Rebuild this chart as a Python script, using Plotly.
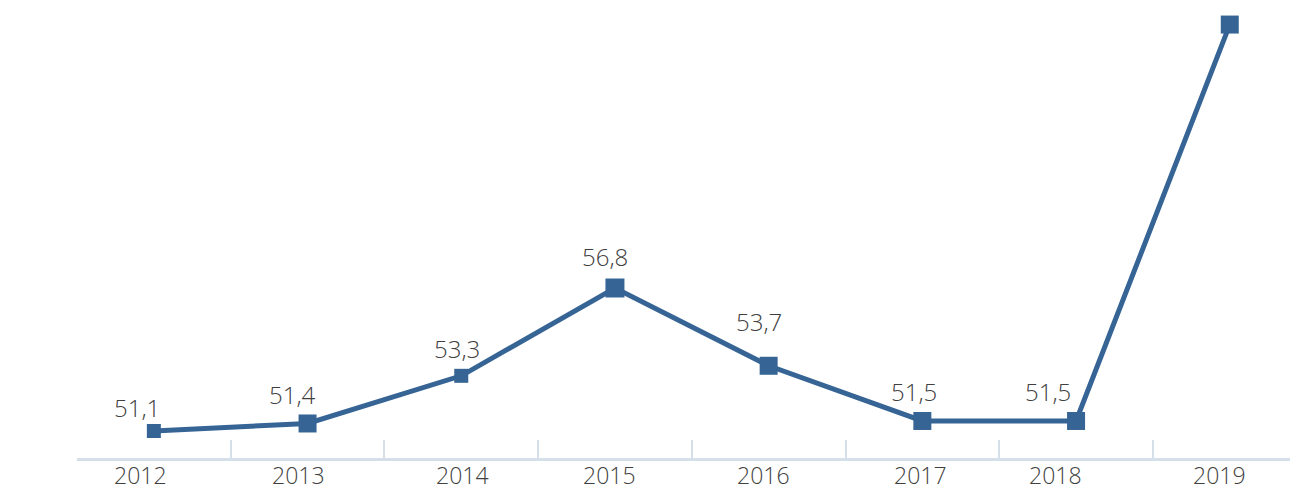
import plotly.graph_objects as go

years = ["2012", "2013", "2014", "2015", "2016", "2017", "2018", "2019"]
values = [51.1, 51.4, 53.3, 56.8, 53.7, 51.5, 51.5, 67.3]
labels = ["51,1", "51,4", "53,3", "56,8", "53,7", "51,5", "51,5", ""]

# styling (not data)
marker_sizes = [14, 18, 14, 19, 18, 18, 18, 18]
label_dx = [-17, -15, -4, -10, -10, -8, -28, 0]
label_dy = [24, 29, 27, 32, 44, 29, 29, 0]
tick_dx = [-13, -9, 1, -5, -5, -2, -21, -10]

LINE = "#366495"
AXIS = "#d5dfea"
TXT = "#404040"
FONT = "Open Sans"
WEIGHT = 300

fig = go.Figure()
fig.add_trace(go.Scatter(
    x=years, y=values, mode="lines+markers",
    line=dict(color=LINE, width=5),
    marker=dict(symbol="square", size=marker_sizes, color=LINE,
                opacity=1, line=dict(width=0)),
    cliponaxis=False, hoverinfo="skip", showlegend=False,
))

annotations = []
for i, (v, lab, dx, dy) in enumerate(zip(values, labels, label_dx, label_dy)):
    if not lab:
        continue
    annotations.append(dict(x=i, y=v, xref="x", yref="y", text=lab,
                            showarrow=False, xshift=dx, yshift=dy,
                            xanchor="center", yanchor="middle",
                            font=dict(family=FONT, size=24, color=TXT,
                                      weight=WEIGHT)))
# category labels under the axis
for i, (yr, dx) in enumerate(zip(years, tick_dx)):
    annotations.append(dict(x=i, y=0, xref="x", yref="paper", text=yr,
                            showarrow=False, xshift=dx, yshift=-17,
                            xanchor="center", yanchor="middle",
                            font=dict(family=FONT, size=23, color=TXT,
                                      weight=WEIGHT)))

fig.update_layout(
    width=1290, height=482,
    margin=dict(l=69, r=0, t=0, b=32, autoexpand=False),
    paper_bgcolor="white", plot_bgcolor="white",
    annotations=annotations,
    xaxis=dict(type="category", range=[-0.5, 7.444],
               showline=True, linecolor=AXIS, linewidth=3,
               ticks="inside", tickson="boundaries", ticklen=18,
               tickwidth=2, tickcolor=AXIS, showgrid=False, zeroline=False,
               showticklabels=False, automargin=False),
    yaxis=dict(range=[50.024, 67.96], showticklabels=False, showline=False,
               ticks="", showgrid=False, zeroline=False, automargin=False),
)

fig.write_html("out.html")
